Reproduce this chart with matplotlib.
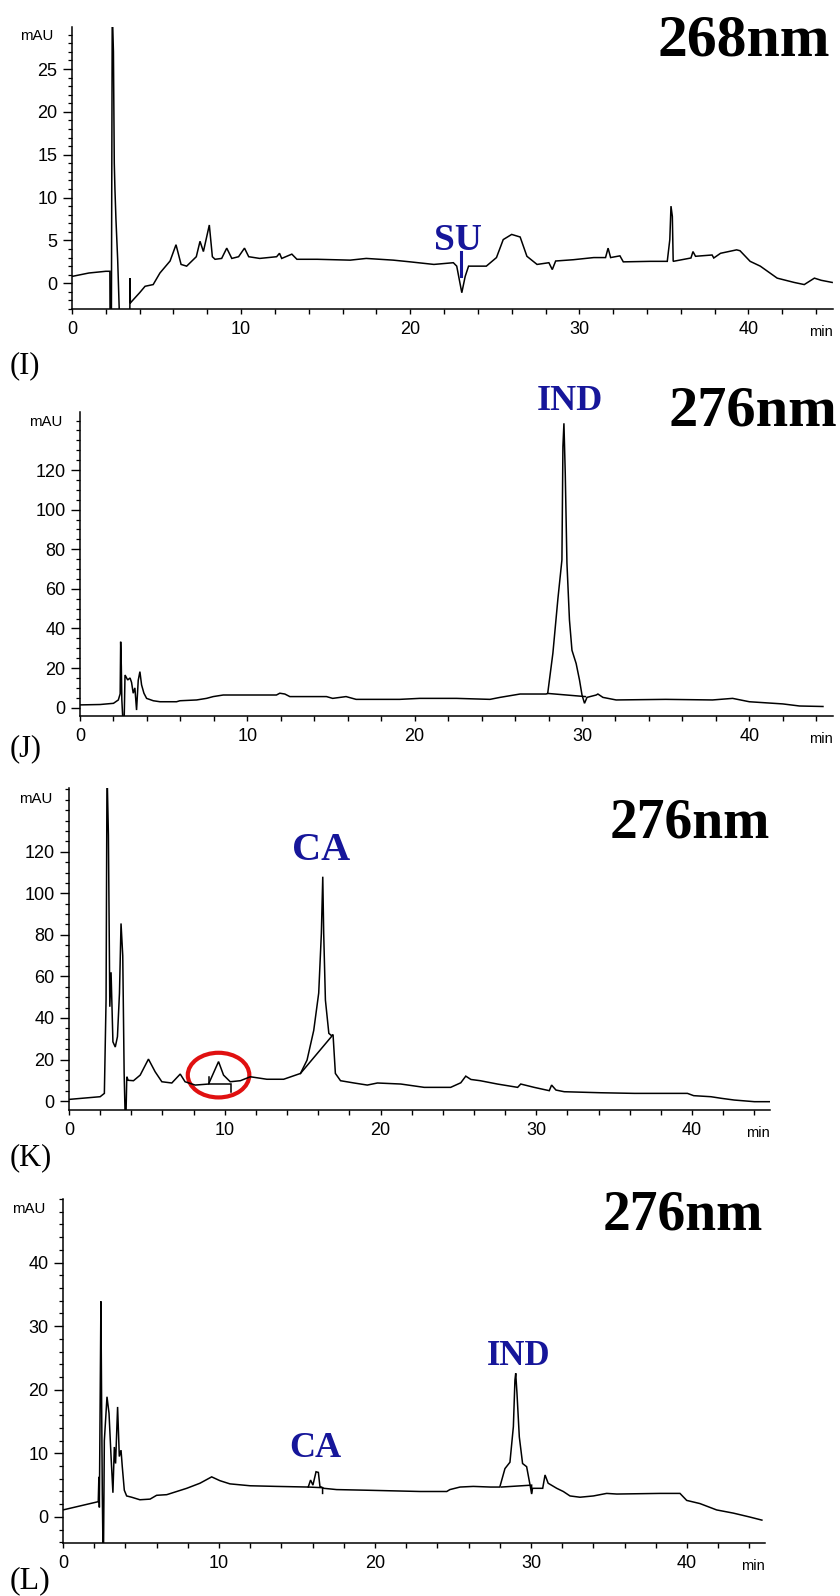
import matplotlib
matplotlib.use('Agg')
import matplotlib.pyplot as plt
from matplotlib.patches import Ellipse
from matplotlib.ticker import MultipleLocator

FIG_W, FIG_H, DPI = 840, 1596, 100
LABEL_BLUE = '#16169a'
SANS = ['Liberation Sans', 'DejaVu Sans']
SERIF = ['Liberation Serif', 'DejaVu Serif']

# (I) 268 nm
I_TIME = [0, 1.0, 2.0, 2.24, 2.25, 2.33, 2.38, 2.45, 2.5, 2.54, 2.6, 2.7, 2.8, 3.42, 3.43,
          3.45, 3.63, 4.0, 4.32, 4.8, 5.2, 5.8, 6.15, 6.45, 6.78, 7.35, 7.57, 7.77, 8.12,
          8.3, 8.46, 8.85, 9.15, 9.45, 9.85, 10.2, 10.45, 11.1, 12.1, 12.27, 12.4, 13.0,
          13.3, 14.5, 16.45, 17.4, 19.0, 20.0, 21.4, 22.55, 22.75, 23.05, 23.25, 23.45,
          23.95, 24.5, 25.1, 25.5, 26.0, 26.5, 26.9, 27.5, 28.2, 28.4, 28.6, 29.65, 30.85,
          31.55, 31.7, 31.85, 32.4, 32.6, 34.2, 35.2, 35.35, 35.42, 35.5, 35.55, 36.6,
          36.72, 36.87, 37.85, 37.95, 38.35, 39.3, 39.5, 40.1, 40.7, 41.7, 42.7, 43.3,
          43.9, 44.3, 44.95]
I_MAU = [0.8, 1.2, 1.4, 1.4, -3.5, -3.5, 32, 27, 14, 10.9, 7.4, 2.8, -3.5, -3.5, 0.6,
         -2.3, -1.9, -1.1, -0.35, -0.15, 1.2, 2.6, 4.5, 2.2, 2.0, 3.1, 4.9, 3.7, 6.8,
         3.1, 2.8, 2.9, 4.1, 2.9, 3.1, 4.1, 3.1, 2.9, 3.1, 3.5, 2.9, 3.4,
         2.8, 2.8, 2.7, 2.9, 2.7, 2.5, 2.2, 2.4, 2.0, -1.1, 0.8, 2.0,
         2.0, 2.0, 3.0, 5.1, 5.7, 5.4, 3.15, 2.2, 2.4, 1.6, 2.6, 2.75, 3.0,
         3.0, 4.1, 3.0, 3.2, 2.5, 2.56, 2.56, 5.1, 9.0, 7.8, 2.56, 2.95,
         3.7, 3.15, 3.3, 2.95, 3.5, 3.9, 3.8, 2.56, 2.0, 0.6, 0.1, -0.15,
         0.6, 0.35, 0.1]

# (J) 276 nm
J_TIME = [0, 1.2, 2.0, 2.29, 2.4, 2.43, 2.47, 2.5, 2.56, 2.64, 2.69, 2.85, 2.99, 3.08,
          3.18, 3.28, 3.38, 3.48, 3.58, 3.68, 3.82, 3.98, 4.38, 4.78, 5.77, 5.97, 6.97,
          7.56, 7.96, 8.56, 11.74, 11.94, 12.24, 12.54, 14.73, 15.1, 15.9, 16.5, 19.1,
          20.3, 22.5, 24.5, 25.1, 26.3, 27.85, 27.95, 28.26, 28.56, 28.8, 28.86, 28.92,
          29.0, 29.1, 29.25, 29.4, 29.65, 29.85, 30.0, 30.15, 30.3, 30.85, 30.95, 31.25,
          32.04, 35.0, 37.8, 39.0, 40.0, 42.0, 43.0, 44.4]
J_MAU = [1.4, 1.6, 2.2, 3.9, 7, 33.3, 20.7, 4, -6, -6, 16.5, 14, 15, 12.8,
         7.3, 10, -1.2, 13.8, 18.2, 11.5, 7.3, 4.7, 3.5, 3.0, 3.0, 3.5, 3.9,
         4.7, 5.6, 6.4, 6.4, 7.3, 6.9, 5.6, 5.6, 4.7, 5.6, 4.2, 4.2,
         4.7, 4.7, 4.2, 5.2, 6.9, 6.9, 7.2, 27.5, 55, 74.6, 131.8, 143.6,
         118, 73, 44.3, 29, 22.3, 14, 6.4, 2.2, 5.2, 6.4, 6.9, 5.2,
         3.9, 4.2, 3.9, 4.7, 3.0, 1.9, 0.85, 0.6]
J_BASE_TIME = [27.95, 30.2]
J_BASE_MAU = [7.2, 5.6]

# (K) 276 nm
K_TIME = [0, 2.0, 2.27, 2.38, 2.44, 2.53, 2.62, 2.7, 2.82, 2.97, 3.11, 3.24, 3.34, 3.45,
          3.54, 3.6, 3.66, 3.71, 3.8, 4.14, 4.57, 5.1, 5.53, 5.96, 6.6, 7.14, 7.45, 8.1,
          8.96, 9.6, 9.92, 10.35, 11.0, 11.64, 12.7, 13.78, 14.86, 15.28, 15.71, 16.03,
          16.2, 16.29, 16.35, 16.46, 16.68, 16.85, 16.95, 17.1, 17.43, 18.3, 19.15, 19.8,
          21.3, 22.8, 24.5, 25.15, 25.47, 25.8, 26.4, 27.5, 28.8, 29.0, 29.86, 30.83,
          30.98, 31.26, 31.79, 34.15, 36.3, 39.7, 40.1, 41.2, 41.9, 42.7, 44.0, 45.1]
K_MAU = [0.8, 2.1, 3.7, 49, 160, 128, 45.4, 62, 28.5, 26, 31, 52, 85.5, 70,
         13.3, -6, -6, 11.7, 10, 9.8, 12.5, 20.2, 14.1, 9.3, 8.7, 13, 9.3, 7.7,
         8.2, 19, 12.5, 9.3, 9.8, 11.7, 10.5, 10.5, 13.3, 19.7, 34, 52,
         80.7, 108, 80.7, 48.6, 32.6, 31.5, 32, 13.3, 9.8, 8.7, 7.7, 8.7,
         8.2, 6.6, 6.6, 8.8, 12, 10.4, 9.8, 8.2, 6.6, 8.2, 6.6, 5.0,
         7.7, 5.3, 4.5, 4.0, 3.7, 3.7, 2.6, 2.1, 1.3, 0.5, -0.3, -0.3]
K_SMALL_BASE_TIME = [8.96, 8.96, 10.4, 10.4]
K_SMALL_BASE_MAU = [11.5, 8.2, 8.2, 4.5]
K_CA_BASE_TIME = [14.86, 16.9]
K_CA_BASE_MAU = [13.3, 31.5]

# (L) 276 nm
L_TIME = [0, 2.26, 2.3, 2.33, 2.43, 2.47, 2.52, 2.56, 2.6, 2.65, 2.82, 2.95, 3.08, 3.2,
          3.29, 3.37, 3.5, 3.61, 3.72, 3.8, 3.93, 4.08, 4.4, 4.93, 5.58, 6.0, 6.65, 7.93,
          8.78, 9.53, 10.06, 10.7, 12.0, 13.7, 15.72, 15.87, 16.02, 16.22, 16.37, 16.47,
          16.72, 17.54, 19.47, 22.9, 24.6, 24.8, 25.45, 26.3, 27.4, 28.0, 28.33, 28.65,
          28.87, 28.97, 29.02, 29.1, 29.25, 29.46, 29.72, 29.94, 30.04, 30.1, 30.75, 30.9,
          31.1, 31.65, 32.07, 32.5, 33.14, 34.0, 34.85, 35.5, 38.27, 39.55, 39.98, 40.83,
          41.9, 42.97, 44.0, 44.8]
L_MAU = [1.1, 2.4, 6.3, 1.5, 33.9, 20, 3.6, -4.5, -4.5, 12, 18.9, 16.3, 9.5, 3.8,
         11, 8.4, 17.3, 9.5, 10.5, 7.9, 4.2, 3.3, 3.1, 2.7, 2.8, 3.4, 3.5, 4.5,
         5.3, 6.3, 5.7, 5.2, 4.9, 4.8, 4.7, 5.8, 5.0, 7.1, 7.0, 4.8,
         4.5, 4.3, 4.2, 4.0, 4.0, 4.3, 4.7, 4.8, 4.7, 4.7, 7.6, 8.6,
         14.2, 21.5, 22.6, 19.5, 12.6, 8.4, 7.9, 5.0, 3.7, 4.5, 4.5, 6.6,
         5.3, 4.5, 4.0, 3.3, 3.1, 3.3, 3.7, 3.6, 3.7, 3.7, 2.6, 2.1,
         1.1, 0.6, 0.0, -0.5]
L_CA_BASE_TIME = [15.72, 16.64, 16.64]
L_CA_BASE_MAU = [4.7, 4.6, 3.7]
L_IND_BASE_TIME = [28.1, 30.04, 30.04]
L_IND_BASE_MAU = [4.7, 5.0, 3.7]


def px_x(x):
    return x / FIG_W


def px_y(y):
    return 1 - y / FIG_H


def make_axes(fig, left, top, right, bottom, ylim, ymajor, yminor, ylabel_max):
    ax = fig.add_axes([px_x(left), px_y(bottom), (right - left) / FIG_W, (bottom - top) / FIG_H])
    ax.set_xlim(0, 45)
    for side in ('top', 'right'):
        ax.spines[side].set_visible(False)
    for side in ('left', 'bottom'):
        ax.spines[side].set_linewidth(1.1)
    ax.xaxis.set_major_locator(MultipleLocator(10))
    ax.xaxis.set_minor_locator(MultipleLocator(2))
    ax.yaxis.set_minor_locator(MultipleLocator(yminor))
    # labelled ticks stop below the top of the axis, as in the instrument printout
    n_major = int(ylabel_max // ymajor)
    ax.set_yticks([ymajor * i for i in range(n_major + 1)])
    ax.set_ylim(*ylim)
    ax.tick_params(axis='y', which='major', length=6.5, width=1.0, pad=4, labelsize=13)
    ax.tick_params(axis='y', which='minor', length=3.2, width=0.9)
    ax.tick_params(axis='x', which='both', length=3.8, width=1.0, pad=5, labelsize=13)
    for lab in ax.get_xticklabels() + ax.get_yticklabels():
        lab.set_family(SANS)
    ax.patch.set_alpha(0)
    ax.annotate('min', xy=(1, 0), xycoords='axes fraction', xytext=(0, -27),
                textcoords='offset pixels', ha='right', va='baseline', fontsize=10.5, family=SANS)
    return ax


def trace(ax, t, v, lw=1.1):
    ax.plot(t, v, color='black', lw=lw, solid_joinstyle='miter')


def main():
    fig = plt.figure(figsize=(FIG_W / DPI, FIG_H / DPI), dpi=DPI)

    # (I)
    ax = make_axes(fig, 72, 27, 833, 309, (-3, 29.9), 5, 1, 25)
    trace(ax, I_TIME, I_MAU)
    ax.plot([23.0, 23.0], [0.8, 3.6], color=LABEL_BLUE, lw=2.2)
    ax.text(22.8, 3.9, 'SU', color=LABEL_BLUE, fontsize=27, fontweight='bold', family=SERIF,
            ha='center', va='baseline')
    fig.text(px_x(53), px_y(36.5), 'mAU', ha='right', va='center', fontsize=10.8, family=SANS)
    fig.text(px_x(830), px_y(55), '268nm', ha='right', va='baseline', fontsize=43,
             fontweight='bold', family=SERIF)
    fig.text(px_x(10), px_y(366), '(I)', ha='left', va='center', fontsize=22, family=SERIF)

    # (J)
    ax = make_axes(fig, 80, 412, 833, 716, (-4.2, 149.3), 20, 5, 120)
    trace(ax, J_TIME, J_MAU)
    trace(ax, J_BASE_TIME, J_BASE_MAU)
    ax.text(29.3, 150.3, 'IND', color=LABEL_BLUE, fontsize=26, fontweight='bold', family=SERIF,
            ha='center', va='baseline')
    fig.text(px_x(62), px_y(422), 'mAU', ha='right', va='center', fontsize=10.8, family=SANS)
    fig.text(px_x(837), px_y(425), '276nm', ha='right', va='baseline', fontsize=42,
             fontweight='bold', family=SERIF)
    fig.text(px_x(10), px_y(749), '(J)', ha='left', va='center', fontsize=22, family=SERIF)

    # (K)
    ax = make_axes(fig, 69, 788, 770, 1110, (-4.3, 150.7), 20, 5, 120)
    trace(ax, K_TIME, K_MAU)
    trace(ax, K_SMALL_BASE_TIME, K_SMALL_BASE_MAU)
    trace(ax, K_CA_BASE_TIME, K_CA_BASE_MAU)
    ax.add_patch(Ellipse((9.6, 12.5), 3.95, 21.5, fill=False, edgecolor='#e01010', lw=3.0))
    ax.text(16.17, 116, 'CA', color=LABEL_BLUE, fontsize=29, fontweight='bold', family=SERIF,
            ha='center', va='baseline')
    fig.text(px_x(52), px_y(799), 'mAU', ha='right', va='center', fontsize=10.8, family=SANS)
    fig.text(px_x(770), px_y(838), '276nm', ha='right', va='baseline', fontsize=40,
             fontweight='bold', family=SERIF)
    fig.text(px_x(10), px_y(1158), '(K)', ha='left', va='center', fontsize=22, family=SERIF)

    # (L)
    ax = make_axes(fig, 63, 1199, 765, 1543, (-4.1, 50), 10, 2, 40)
    trace(ax, L_TIME, L_MAU)
    trace(ax, L_CA_BASE_TIME, L_CA_BASE_MAU)
    trace(ax, L_IND_BASE_TIME, L_IND_BASE_MAU)
    ax.text(16.15, 9.4, 'CA', color=LABEL_BLUE, fontsize=26, fontweight='bold', family=SERIF,
            ha='center', va='baseline')
    ax.text(29.2, 23.9, 'IND', color=LABEL_BLUE, fontsize=25, fontweight='bold', family=SERIF,
            ha='center', va='baseline')
    fig.text(px_x(45), px_y(1209), 'mAU', ha='right', va='center', fontsize=10.8, family=SANS)
    fig.text(px_x(763), px_y(1230), '276nm', ha='right', va='baseline', fontsize=40,
             fontweight='bold', family=SERIF)
    fig.text(px_x(10), px_y(1581), '(L)', ha='left', va='center', fontsize=23, family=SERIF)

    fig.savefig('out.png', dpi=DPI)


if __name__ == '__main__':
    main()
